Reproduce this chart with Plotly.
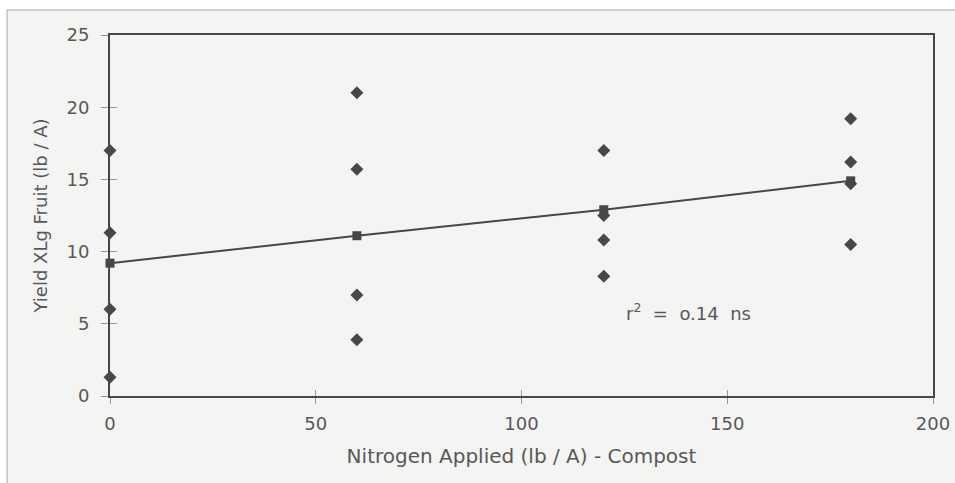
import plotly.graph_objects as go

# Individual plot yields (lb / A) at each nitrogen rate
n_rates = [0, 60, 120, 180]
rep_x = [0, 0, 0, 0, 60, 60, 60, 60, 120, 120, 120, 120, 180, 180, 180, 180]
rep_y = [17.0, 11.3, 6.0, 1.3, 21.0, 15.7, 7.0, 3.9, 17.0, 12.5, 10.8, 8.3, 19.2, 16.2, 14.7, 10.5]
# Fitted / mean values
fit_y = [9.2, 11.1, 12.9, 14.9]

x_ticks = [0, 50, 100, 150, 200]
y_ticks = [0, 5, 10, 15, 20, 25]

ink = "#474747"
txt = "#585858"
tickc = "#9a9a9a"
bg = "#f4f4f3"
fam = "DejaVu Sans, Liberation Sans, Arial"

fig = go.Figure()
fig.add_trace(go.Scatter(x=rep_x, y=rep_y, mode="markers", cliponaxis=False,
                         marker=dict(symbol="diamond", size=10, color=ink),
                         showlegend=False, hoverinfo="skip"))
fig.add_trace(go.Scatter(x=n_rates, y=fit_y, mode="lines+markers", cliponaxis=False,
                         line=dict(color=ink, width=2),
                         marker=dict(symbol="square", size=9, color=ink),
                         showlegend=False))
# invisible trace on overlay axes (for crossing tick marks)
fig.add_trace(go.Scatter(x=[0], y=[0], xaxis="x2", yaxis="y2", mode="markers",
                         marker=dict(opacity=0), showlegend=False, hoverinfo="skip"))

fig.add_annotation(x=0.624, y=0.232, xref="paper", yref="paper",
                   text="r<sup>2</sup>&nbsp; =&nbsp; o.14&nbsp; ns", showarrow=False,
                   xanchor="left", yanchor="middle",
                   font=dict(family=fam, size=18, color=txt))

fig.add_shape(type="rect", xref="paper", yref="paper", layer="below",
              x0=-0.125, x1=1.04, y0=-0.245, y1=1.069,
              line=dict(color="#c2c2c2", width=1.5), fillcolor=bg)

axis_common = dict(showgrid=False, zeroline=False, tickcolor=tickc, tickwidth=1,
                   automargin=False)

fig.update_layout(
    width=955, height=483,
    margin=dict(l=110, r=22, t=35, b=87),
    paper_bgcolor="#ffffff", plot_bgcolor="rgba(0,0,0,0)",
    font=dict(family=fam, size=16, color=txt),
    xaxis=dict(range=[0, 200], tickvals=x_ticks, showline=True, linecolor=ink,
               linewidth=2, mirror=True, ticks="outside", ticklen=6,
               tickfont=dict(size=18), ticklabelstandoff=4,
               title=dict(text="Nitrogen Applied (lb / A) - Compost",
                          font=dict(size=20), standoff=16),
               **axis_common),
    yaxis=dict(range=[0, 25], tickvals=y_ticks, showline=True, linecolor=ink,
               linewidth=2, mirror=True, ticks="outside", ticklen=7,
               tickfont=dict(size=18), ticklabelstandoff=8,
               title=dict(text="Yield XLg Fruit (lb / A)", font=dict(size=18), standoff=14),
               **axis_common),
    xaxis2=dict(range=[0, 200], tickvals=x_ticks, overlaying="x", side="bottom",
                ticks="inside", ticklen=6, showticklabels=False, showline=False,
                **axis_common),
    yaxis2=dict(range=[0, 25], tickvals=y_ticks, overlaying="y", side="left",
                ticks="inside", ticklen=7, showticklabels=False, showline=False,
                **axis_common),
)

fig.write_html("out.html")
